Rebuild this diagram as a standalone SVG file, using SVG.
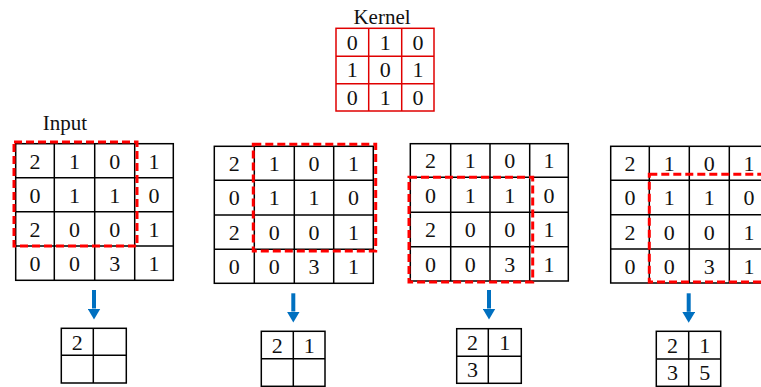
<svg xmlns="http://www.w3.org/2000/svg" width="761" height="387" viewBox="0 0 761 387">
<style>
  .g line, .g rect { stroke: #000; stroke-width: 1.5; fill: none; }
  .k line, .k rect { stroke: #e00000; stroke-width: 1.5; fill: none; }
  .d { font-family: "Liberation Serif", "Times New Roman", serif; font-size: 22px; fill: #111; text-anchor: middle; }
  .lbl { font-family: "Liberation Serif", "Times New Roman", serif; font-size: 21px; fill: #111; text-anchor: middle; }
  .win { stroke: #ff0000; stroke-width: 3; stroke-dasharray: 8 4; fill: none; }
  .arr { stroke: #0070c0; stroke-width: 4; }
</style>
<defs>
  <marker id="ah" viewBox="0 0 11 13" refX="0" refY="6.5" markerWidth="11" markerHeight="13" markerUnits="userSpaceOnUse" orient="auto">
    <path d="M0,0 L11,6.5 L0,13 z" fill="#0070c0"/>
  </marker>
</defs>
<rect width="761" height="387" fill="#fff"/>

<g id="kernel">
  <text class="lbl" x="382" y="23.5">Kernel</text>
  <g class="k">
    <rect x="336" y="28.3" width="98" height="82.7"/>
    <line x1="368.7" y1="28.3" x2="368.7" y2="111"/>
    <line x1="401.7" y1="28.3" x2="401.7" y2="111"/>
    <line x1="336" y1="56.3" x2="434" y2="56.3"/>
    <line x1="336" y1="83.7" x2="434" y2="83.7"/>
  </g>
  <text class="d" x="352.3" y="49.5">0</text><text class="d" x="385.2" y="49.5">1</text><text class="d" x="418" y="49.5">0</text>
  <text class="d" x="352.3" y="77.2">1</text><text class="d" x="385.2" y="77.2">0</text><text class="d" x="418" y="77.2">1</text>
  <text class="d" x="352.3" y="104.5">0</text><text class="d" x="385.2" y="104.5">1</text><text class="d" x="418" y="104.5">0</text>
</g>

<g id="input1">
  <text class="lbl" x="65" y="130">Input</text>
  <g class="g">
    <rect x="15.7" y="143.7" width="157.6" height="136.6"/>
    <line x1="54.3" y1="143.7" x2="54.3" y2="280.3"/>
    <line x1="94.7" y1="143.7" x2="94.7" y2="280.3"/>
    <line x1="134.7" y1="143.7" x2="134.7" y2="280.3"/>
    <line x1="15.7" y1="177.7" x2="173.3" y2="177.7"/>
    <line x1="15.7" y1="211.7" x2="173.3" y2="211.7"/>
    <line x1="15.7" y1="246" x2="173.3" y2="246"/>
  </g>
  <text class="d" x="35" y="168.5">2</text><text class="d" x="74.5" y="168.5">1</text><text class="d" x="114.7" y="168.5">0</text><text class="d" x="154" y="168.5">1</text>
  <text class="d" x="35" y="202.5">0</text><text class="d" x="74.5" y="202.5">1</text><text class="d" x="114.7" y="202.5">1</text><text class="d" x="154" y="202.5">0</text>
  <text class="d" x="35" y="236.6">2</text><text class="d" x="74.5" y="236.6">0</text><text class="d" x="114.7" y="236.6">0</text><text class="d" x="154" y="236.6">1</text>
  <text class="d" x="35" y="270.9">0</text><text class="d" x="74.5" y="270.9">0</text><text class="d" x="114.7" y="270.9">3</text><text class="d" x="154" y="270.9">1</text>
  <rect class="win" x="14" y="142" width="123" height="104"/>
</g>

<g id="input2">
  <g class="g">
    <rect x="214.3" y="146.3" width="159" height="137"/>
    <line x1="254.3" y1="146.3" x2="254.3" y2="283.3"/>
    <line x1="294.3" y1="146.3" x2="294.3" y2="283.3"/>
    <line x1="333.7" y1="146.3" x2="333.7" y2="283.3"/>
    <line x1="214.3" y1="180.3" x2="373.3" y2="180.3"/>
    <line x1="214.3" y1="215" x2="373.3" y2="215"/>
    <line x1="214.3" y1="249.3" x2="373.3" y2="249.3"/>
  </g>
  <text class="d" x="234.3" y="171">2</text><text class="d" x="274.3" y="171">1</text><text class="d" x="314" y="171">0</text><text class="d" x="353.5" y="171">1</text>
  <text class="d" x="234.3" y="205.4">0</text><text class="d" x="274.3" y="205.4">1</text><text class="d" x="314" y="205.4">1</text><text class="d" x="353.5" y="205.4">0</text>
  <text class="d" x="234.3" y="239.9">2</text><text class="d" x="274.3" y="239.9">0</text><text class="d" x="314" y="239.9">0</text><text class="d" x="353.5" y="239.9">1</text>
  <text class="d" x="234.3" y="274">0</text><text class="d" x="274.3" y="274">0</text><text class="d" x="314" y="274">3</text><text class="d" x="353.5" y="274">1</text>
  <rect class="win" x="253.3" y="144.3" width="122.4" height="106.7"/>
</g>

<g id="input3">
  <g class="g">
    <rect x="410.3" y="143.7" width="158" height="137.3"/>
    <line x1="450.7" y1="143.7" x2="450.7" y2="281"/>
    <line x1="490" y1="143.7" x2="490" y2="281"/>
    <line x1="529.7" y1="143.7" x2="529.7" y2="281"/>
    <line x1="410.3" y1="177.3" x2="568.3" y2="177.3"/>
    <line x1="410.3" y1="212.3" x2="568.3" y2="212.3"/>
    <line x1="410.3" y1="246.7" x2="568.3" y2="246.7"/>
  </g>
  <text class="d" x="430.5" y="168">2</text><text class="d" x="470.3" y="168">1</text><text class="d" x="509.8" y="168">0</text><text class="d" x="549" y="168">1</text>
  <text class="d" x="430.5" y="202.5">0</text><text class="d" x="470.3" y="202.5">1</text><text class="d" x="509.8" y="202.5">1</text><text class="d" x="549" y="202.5">0</text>
  <text class="d" x="430.5" y="237">2</text><text class="d" x="470.3" y="237">0</text><text class="d" x="509.8" y="237">0</text><text class="d" x="549" y="237">1</text>
  <text class="d" x="430.5" y="271.5">0</text><text class="d" x="470.3" y="271.5">0</text><text class="d" x="509.8" y="271.5">3</text><text class="d" x="549" y="271.5">1</text>
  <rect class="win" x="409" y="177.3" width="123.7" height="104.7"/>
</g>

<g id="input4">
  <g class="g">
    <rect x="610.7" y="146.3" width="158.3" height="136.7"/>
    <line x1="649.3" y1="146.3" x2="649.3" y2="283"/>
    <line x1="689.3" y1="146.3" x2="689.3" y2="283"/>
    <line x1="729.3" y1="146.3" x2="729.3" y2="283"/>
    <line x1="610.7" y1="180.3" x2="769" y2="180.3"/>
    <line x1="610.7" y1="214.7" x2="769" y2="214.7"/>
    <line x1="610.7" y1="249" x2="769" y2="249"/>
  </g>
  <text class="d" x="630" y="171">2</text><text class="d" x="669.3" y="171">1</text><text class="d" x="709.3" y="171">0</text><text class="d" x="749" y="171">1</text>
  <text class="d" x="630" y="205.2">0</text><text class="d" x="669.3" y="205.2">1</text><text class="d" x="709.3" y="205.2">1</text><text class="d" x="749" y="205.2">0</text>
  <text class="d" x="630" y="239.6">2</text><text class="d" x="669.3" y="239.6">0</text><text class="d" x="709.3" y="239.6">0</text><text class="d" x="749" y="239.6">1</text>
  <text class="d" x="630" y="273.8">0</text><text class="d" x="669.3" y="273.8">0</text><text class="d" x="709.3" y="273.8">3</text><text class="d" x="749" y="273.8">1</text>
  <rect class="win" x="649.3" y="174.3" width="122" height="107.7"/>
</g>

<g id="connectors">
  <line class="arr" x1="94" y1="290" x2="94" y2="308.5" marker-end="url(#ah)"/>
  <line class="arr" x1="293.3" y1="293.3" x2="293.3" y2="311.5" marker-end="url(#ah)"/>
  <line class="arr" x1="489" y1="290" x2="489" y2="308.5" marker-end="url(#ah)"/>
  <line class="arr" x1="688.7" y1="293.3" x2="688.7" y2="311.8" marker-end="url(#ah)"/>
</g>

<g id="output1">
  <g class="g">
    <rect x="61.3" y="328.3" width="65" height="54.7"/>
    <line x1="93.3" y1="328.3" x2="93.3" y2="383"/>
    <line x1="61.3" y1="355.3" x2="126.3" y2="355.3"/>
  </g>
  <text class="d" x="77.3" y="349.8">2</text>
</g>

<g id="output2">
  <g class="g">
    <rect x="261.3" y="331.3" width="63.7" height="55"/>
    <line x1="293.3" y1="331.3" x2="293.3" y2="386.3"/>
    <line x1="261.3" y1="358.7" x2="325" y2="358.7"/>
  </g>
  <text class="d" x="277.3" y="352.5">2</text><text class="d" x="309.2" y="352.5">1</text>
</g>

<g id="output3">
  <g class="g">
    <rect x="456.7" y="328.7" width="64.6" height="54.6"/>
    <line x1="488.3" y1="328.7" x2="488.3" y2="383.3"/>
    <line x1="456.7" y1="356.3" x2="521.3" y2="356.3"/>
  </g>
  <text class="d" x="472.5" y="350">2</text><text class="d" x="504.8" y="350">1</text>
  <text class="d" x="472.5" y="377.3">3</text>
</g>

<g id="output4">
  <g class="g">
    <rect x="656.3" y="331.3" width="64.4" height="55"/>
    <line x1="688.7" y1="331.3" x2="688.7" y2="386.3"/>
    <line x1="656.3" y1="359" x2="720.7" y2="359"/>
  </g>
  <text class="d" x="672.5" y="352.7">2</text><text class="d" x="704.7" y="352.7">1</text>
  <text class="d" x="672.5" y="380">3</text><text class="d" x="704.7" y="380">5</text>
</g>
</svg>
